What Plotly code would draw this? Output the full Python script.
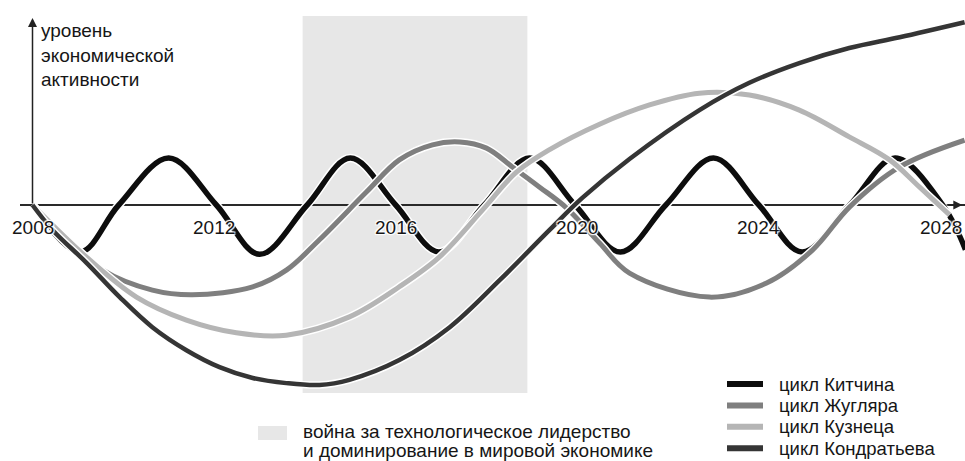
import plotly.graph_objects as go

# Economic cycles, level relative to the trend line (zero)
kitchin_years = [2008.0, 2009.05, 2009.9, 2011.0, 2012.05, 2013.0, 2014.05, 2015.0,
                 2016.0, 2016.95, 2017.95, 2018.95, 2019.95, 2020.95, 2021.95, 2023.0,
                 2024.0, 2024.95, 2026.0, 2027.0, 2028.05, 2028.55]
kitchin_level = [0.0, -1.0, 0.0, 1.0, 0.0, -1.05, 0.0, 1.0,
                 0.0, -1.0, 0.0, 1.0, 0.0, -1.0, 0.0, 1.0,
                 0.0, -1.0, 0.0, 1.0, 0.0, -0.95]

juglar_years = [2008.0, 2009.54, 2010.64, 2011.52, 2012.85, 2013.6, 2014.32, 2015.36,
                2016.08, 2016.81, 2017.41, 2018.0, 2018.57, 2019.17, 2019.76, 2020.49,
                2021.15, 2022.91, 2024.17, 2025.18, 2026.0, 2027.1, 2028.53]
juglar_level = [0.0, -1.38, -1.81, -1.91, -1.74, -1.38, -0.74, 0.28,
                0.96, 1.28, 1.34, 1.21, 0.81, 0.38, -0.06, -0.81,
                -1.45, -1.96, -1.66, -0.96, -0.04, 0.81, 1.38]

kuznets_years = [2008.0, 2009.19, 2010.29, 2011.39, 2012.49, 2013.59, 2014.98, 2016.08,
                 2016.96, 2017.91, 2018.66, 2019.39, 2020.49, 2021.59, 2022.69, 2023.79,
                 2024.89, 2025.99, 2026.88, 2027.54, 2028.2]
kuznets_level = [0.0, -1.11, -1.96, -2.45, -2.72, -2.77, -2.38, -1.74,
                 -1.11, -0.11, 0.70, 1.18, 1.72, 2.13, 2.38, 2.34,
                 2.02, 1.45, 0.96, 0.38, -0.21]

kondratiev_years = [2008.0, 2008.44, 2009.19, 2009.92, 2010.64, 2011.39, 2012.12, 2012.85,
                    2013.59, 2014.32, 2014.98, 2016.08, 2017.19, 2018.29, 2019.39, 2020.11,
                    2021.15, 2022.69, 2023.79, 2024.89, 2025.99, 2027.1, 2028.53]
kondratiev_level = [0.0, -0.53, -1.23, -1.96, -2.6, -3.09, -3.45, -3.68,
                    -3.79, -3.83, -3.72, -3.30, -2.60, -1.60, -0.53, 0.15,
                    0.98, 2.02, 2.60, 3.02, 3.34, 3.57, 3.89]

tick_years = [2008, 2012, 2016, 2020, 2024, 2028]
tick_labels = ["2008", "2012", "2016", "2020", "2024", "2028"]

# Period of the struggle for technological leadership
war_start, war_end = 2013.95, 2018.9
war_low, war_high = -4.0, 4.02

FONT = "Liberation Sans, Arial, sans-serif"
TEXT = "#161616"
HALO = "1px 1px 1px #fff, -1px -1px 1px #fff, 1px -1px 1px #fff, -1px 1px 1px #fff, 0 0 2px #fff"

W, H = 965, 461
LEFT = 20


def px_x(px):
    return (px - LEFT) / (W - LEFT)


def px_y(py):
    return 1 - py / H


series = [
    ("цикл Китчина", kitchin_years, kitchin_level, "#0d0d0d", 5.5),
    ("цикл Жугляра", juglar_years, juglar_level, "#7f7f7f", 5),
    ("цикл Кузнеца", kuznets_years, kuznets_level, "#b5b5b5", 5),
    ("цикл Кондратьева", kondratiev_years, kondratiev_level, "#353535", 4.5),
]

fig = go.Figure()
for name, xs, ys, color, width in series:
    # white casing so crossing lines stay readable
    fig.add_trace(go.Scatter(
        x=xs, y=ys, mode="lines", showlegend=False, hoverinfo="skip",
        line=dict(color="white", width=width + 3, shape="spline", smoothing=1.0),
    ))
    fig.add_trace(go.Scatter(
        x=xs, y=ys, mode="lines", name=name, showlegend=False,
        line=dict(color=color, width=width, shape="spline", smoothing=1.0),
    ))

fig.add_shape(type="rect", xref="x", yref="y",
              x0=war_start, x1=war_end, y0=war_low, y1=war_high,
              fillcolor="#e7e7e7", line_width=0, layer="below")

# year labels sitting just under the time axis
for yr, lab in zip(tick_years, tick_labels):
    fig.add_annotation(x=yr, y=-0.47, text=lab, showarrow=False,
                       xanchor="center", yanchor="middle",
                       font=dict(family=FONT, size=19, color=TEXT, shadow=HALO))

# vertical axis with arrow
fig.add_annotation(x=2008, y=3.98, ax=2008, ay=0, axref="x", ayref="y",
                   xref="x", yref="y", text="", showarrow=True,
                   arrowhead=2, arrowsize=1.2, arrowwidth=1.5, arrowcolor="#222")
# arrow tip of the time axis
fig.add_annotation(x=2028.48, y=0, ax=2028.1, ay=0, axref="x", ayref="y",
                   xref="x", yref="y", text="", showarrow=True,
                   arrowhead=2, arrowsize=1.2, arrowwidth=1.5, arrowcolor="#222")

fig.add_annotation(x=2008.15, y=3.97, xref="x", yref="y", showarrow=False,
                   xanchor="left", yanchor="top", align="left",
                   text="уровень<br>экономической<br>активности",
                   font=dict(family=FONT, size=19, color=TEXT))

# key for the shaded period
fig.add_shape(type="rect", xref="paper", yref="paper",
              x0=px_x(258), x1=px_x(287), y0=px_y(440), y1=px_y(426),
              fillcolor="#e7e7e7", line_width=0)
for row, line_text in enumerate(["война за технологическое лидерство",
                                 "и доминирование в мировой экономике"]):
    fig.add_annotation(x=px_x(301), y=px_y(431 + 19 * row), xref="paper", yref="paper",
                       showarrow=False, xanchor="left", yanchor="middle",
                       text=line_text, font=dict(family=FONT, size=19, color=TEXT))

# key for the cycles
for row, (name, _, _, color, width) in enumerate(series):
    yc = px_y(384 + 21.4 * row)
    fig.add_shape(type="line", xref="paper", yref="paper",
                  x0=px_x(727), x1=px_x(763), y0=yc, y1=yc,
                  line=dict(color=color, width=6))
    fig.add_annotation(x=px_x(777), y=yc, xref="paper", yref="paper",
                       showarrow=False, xanchor="left", yanchor="middle",
                       text=name, font=dict(family=FONT, size=18.5, color=TEXT))

fig.update_layout(
    width=W, height=H,
    margin=dict(l=LEFT, r=0, t=0, b=0, pad=0, autoexpand=False),
    paper_bgcolor="white", plot_bgcolor="white",
    showlegend=False,
    xaxis=dict(range=[2007.7247, 2028.5396], visible=False, fixedrange=True),
    yaxis=dict(range=[-5.447, 4.362], showgrid=False, showticklabels=False, ticks="",
               showline=False, zeroline=True, zerolinecolor="#2a2a2a", zerolinewidth=1.5,
               fixedrange=True),
)

fig.write_html("out.html")
